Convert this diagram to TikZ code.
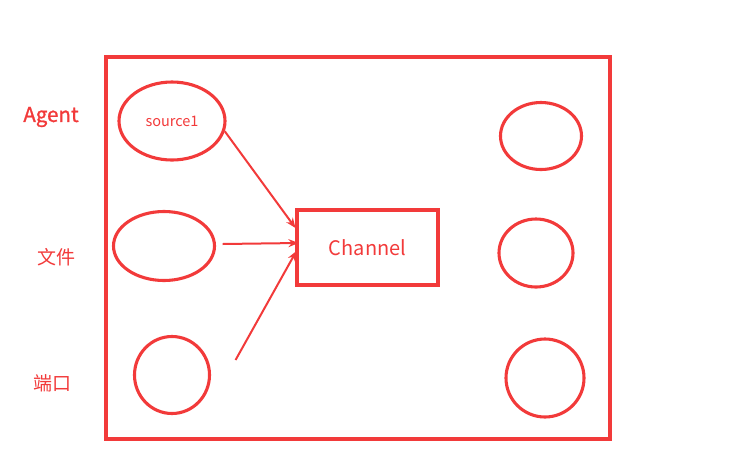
\documentclass[tikz,border=0pt]{standalone}
\usepackage{fontspec}
\setmainfont{Noto Sans CJK SC}
\newfontfamily\agentfont[FakeBold=1.2]{Noto Sans CJK SC}
\usetikzlibrary{shapes.geometric,arrows.meta,calc}
\definecolor{redd}{RGB}{242,58,58}
\tikzset{
    oval/.style = {draw = redd, line width = 3.1pt, ellipse, inner sep = 0pt},
    lab/.style = {text = redd, font = \fontsize{19}{19}\selectfont},
    flow/.style = {draw = redd, line width = 2pt, -{Stealth[length=10pt,width=8pt]}}
}
\begin{document}
\begin{tikzpicture}[x = 1pt, y = -1pt]
                        \useasboundingbox (0,0) rectangle (739,475);
                        \draw[redd, line width = 3.1pt] (106,57) rectangle (610,439);
                        \node[lab, font = \fontsize{20.5}{20.5}\agentfont] (agent) at (51,117) {Agent};
                        \node[lab] (file) at (56,257) {文件};
                        \node[lab] (port) at (53,383) {端口};
                        \node[oval, minimum width = 106pt, minimum height = 78pt, text = redd, font = \fontsize{14.5}{14.5}\selectfont] (src) at (172,121) {source1};
                        \node[oval, minimum width = 101pt, minimum height = 69pt] (fsrc) at (164,246) {};
                        \node[oval, minimum width = 75pt, minimum height = 77pt] (psrc) at (172,375) {};
                        \node[oval, minimum width = 81pt, minimum height = 67pt] (out1) at (541,136) {};
                        \node[oval, minimum width = 74pt, minimum height = 68pt] (out2) at (536,253) {};
                        \node[oval, minimum width = 78pt, minimum height = 78pt] (out3) at (545,378) {};
                        \node[draw = redd, line width = 3.1pt, lab, font = \fontsize{20}{20}\selectfont, minimum width = 141pt, minimum height = 75pt] (chan) at (367.5,247.5) {Channel};
                        \draw[flow] (src.-11) -- ($(chan.west)!0.5!(chan.north west)$);
                        \draw[flow] ([xshift = 6.5pt, yshift = 2pt]fsrc.east) -- ([xshift = 3pt, yshift = 4.5pt]chan.west);
                        \draw[flow] ([xshift = 24.5pt, yshift = 15pt]psrc.east) -- ([xshift = 1pt, yshift = -3.5pt]chan.west);
                    \end{tikzpicture}
\end{document}
